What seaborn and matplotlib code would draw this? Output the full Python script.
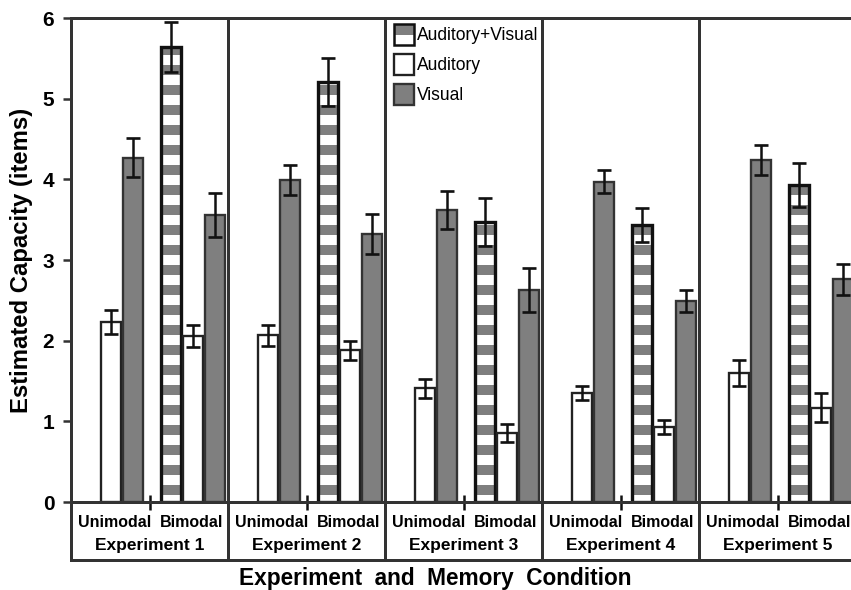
import matplotlib
matplotlib.use('Agg')
import matplotlib.pyplot as plt
from matplotlib.patches import Patch
import seaborn as sns
import pandas as pd

experiments = ['Experiment 1', 'Experiment 2', 'Experiment 3', 'Experiment 4', 'Experiment 5']
conditions = ['Unimodal', 'Bimodal']

# unimodal blocks
uni_aud = [2.23, 2.07, 1.41, 1.35, 1.60]
uni_aud_err = [0.15, 0.13, 0.12, 0.09, 0.16]
uni_vis = [4.27, 3.99, 3.62, 3.97, 4.24]
uni_vis_err = [0.24, 0.19, 0.23, 0.14, 0.19]
# bimodal blocks
bi_av = [5.64, 5.21, 3.47, 3.43, 3.93]
bi_av_err = [0.31, 0.30, 0.30, 0.21, 0.27]
bi_aud = [2.06, 1.88, 0.86, 0.93, 1.17]
bi_aud_err = [0.14, 0.12, 0.11, 0.09, 0.18]
bi_vis = [3.56, 3.32, 2.63, 2.49, 2.76]
bi_vis_err = [0.27, 0.25, 0.27, 0.14, 0.19]

GRAY = '#7f7f7f'
FRAME = '#333333'
DPI = 120

sns.set_style('ticks')
plt.rcParams['font.family'] = ['Liberation Sans', 'DejaVu Sans']
plt.rcParams['hatch.linewidth'] = 6.0
plt.rcParams['text.color'] = 'black'
plt.rcParams['axes.labelcolor'] = 'black'
plt.rcParams['ytick.labelcolor'] = 'black'

fig = plt.figure(figsize=(851 / DPI, 590 / DPI), dpi=DPI)
L = 71 / 851
W = 5 * 157 / 851
ax2 = fig.add_axes([L, 1 - 560 / 590, W, (560 - 502) / 590])
ax = fig.add_axes([L, 1 - 502 / 590, W, (502 - 18) / 590])
ax.set_zorder(3)
ax.patch.set_visible(False)
ax2.patch.set_visible(False)

# offsets of each bar inside an experiment panel (panel width = 1)
series = [
    ('uni_aud', uni_aud, uni_aud_err, 0.255, 'white'),
    ('uni_vis', uni_vis, uni_vis_err, 0.395, 'gray'),
    ('bi_av', bi_av, bi_av_err, 0.637, 'striped'),
    ('bi_aud', bi_aud, bi_aud_err, 0.775, 'white'),
    ('bi_vis', bi_vis, bi_vis_err, 0.915, 'gray'),
]
bw = 0.128

for name, vals, errs, off, style in series:
    df = pd.DataFrame({'pos': [i + off for i in range(len(experiments))], 'val': vals, 'err': errs})
    n0 = len(ax.patches)
    sns.barplot(data=df, x='pos', y='val', native_scale=True, width=bw, ax=ax,
                color='white', saturation=1, errorbar=None)
    for p in ax.patches[n0:]:
        if style == 'white':
            p.set_facecolor('white'); p.set_edgecolor('#222222'); p.set_linewidth(1.4)
        elif style == 'gray':
            p.set_facecolor(GRAY); p.set_edgecolor(FRAME); p.set_linewidth(1.4)
        else:
            p.set_facecolor('white'); p.set_edgecolor(GRAY); p.set_linewidth(0)
            p.set_hatch('-')
    if style == 'striped':
        n1 = len(ax.patches)
        sns.barplot(data=df, x='pos', y='val', native_scale=True, width=bw, ax=ax,
                    color='white', saturation=1, errorbar=None)
        for p in ax.patches[n1:]:
            p.set_facecolor('none'); p.set_edgecolor('#111111'); p.set_linewidth(2.0)
    ax.errorbar(df['pos'], df['val'], yerr=df['err'], fmt='none', ecolor='#111111',
                elinewidth=1.5, capsize=4.3, capthick=1.6, zorder=5)

ax.set_xlim(0, 5)
ax.set_ylim(0, 6)
for x in range(1, 5):
    ax.axvline(x, color=FRAME, lw=1.8, zorder=6)
for s in ['left', 'top', 'bottom', 'right']:
    ax.spines[s].set_visible(True)
    ax.spines[s].set_color(FRAME)
    ax.spines[s].set_linewidth(1.8)
    ax.spines[s].set_zorder(7)
ax.set_yticks(range(7))
ax.set_yticklabels([str(v) for v in range(7)], fontsize=12.5, fontweight='bold')
ax.tick_params(axis='y', direction='out', length=5, width=1.5, color=FRAME, pad=5, labelcolor='black')
ax.set_xticks([i + 0.5 for i in range(5)])
ax.set_xticklabels([])
ax.tick_params(axis='x', direction='inout', length=9, width=1.5, color='#111111')
ax.set_xlabel('')
ax.set_ylabel('Estimated Capacity (items)', fontsize=14.3, fontweight='bold', labelpad=6)

# label box under the axis
ax2.set_xlim(0, 5)
ax2.set_ylim(0, 1)
ax2.set_xticks([]); ax2.set_yticks([])
for s in ['left', 'bottom', 'right']:
    ax2.spines[s].set_color(FRAME)
    ax2.spines[s].set_linewidth(1.8)
ax2.spines['top'].set_visible(False)
for x in range(1, 5):
    ax2.axvline(x, color=FRAME, lw=1.8)
for i, exp in enumerate(experiments):
    ax2.text(i + 0.275, 0.64, conditions[0], ha='center', va='center', fontsize=9.6, fontweight='bold')
    ax2.text(i + 0.765, 0.64, conditions[1], ha='center', va='center', fontsize=9.6, fontweight='bold')
    ax2.text(i + 0.5, 0.25, exp, ha='center', va='center', fontsize=10.4, fontweight='bold')
fig.text(435 / 851, 1 - 578 / 590, 'Experiment  and  Memory  Condition', ha='center', va='center',
         fontsize=13.6, fontweight='bold')

# legend
av_handle = (Patch(facecolor='white', edgecolor=GRAY, hatch='-', linewidth=0),
             Patch(facecolor='none', edgecolor='#111111', linewidth=1.5))
handles = [av_handle,
           Patch(facecolor='white', edgecolor='#222222', linewidth=1.4),
           Patch(facecolor=GRAY, edgecolor=FRAME, linewidth=1.4)]
ax.legend(handles, ['Auditory+Visual', 'Auditory', 'Visual'], loc='upper left',
          bbox_to_anchor=(2.055, 5.93), bbox_transform=ax.transData, frameon=False,
          fontsize=10.5, handlelength=1.15, handleheight=1.5, handletextpad=0.2,
          labelspacing=0.5, borderpad=0, borderaxespad=0)

fig.savefig('out.png', dpi=DPI)
